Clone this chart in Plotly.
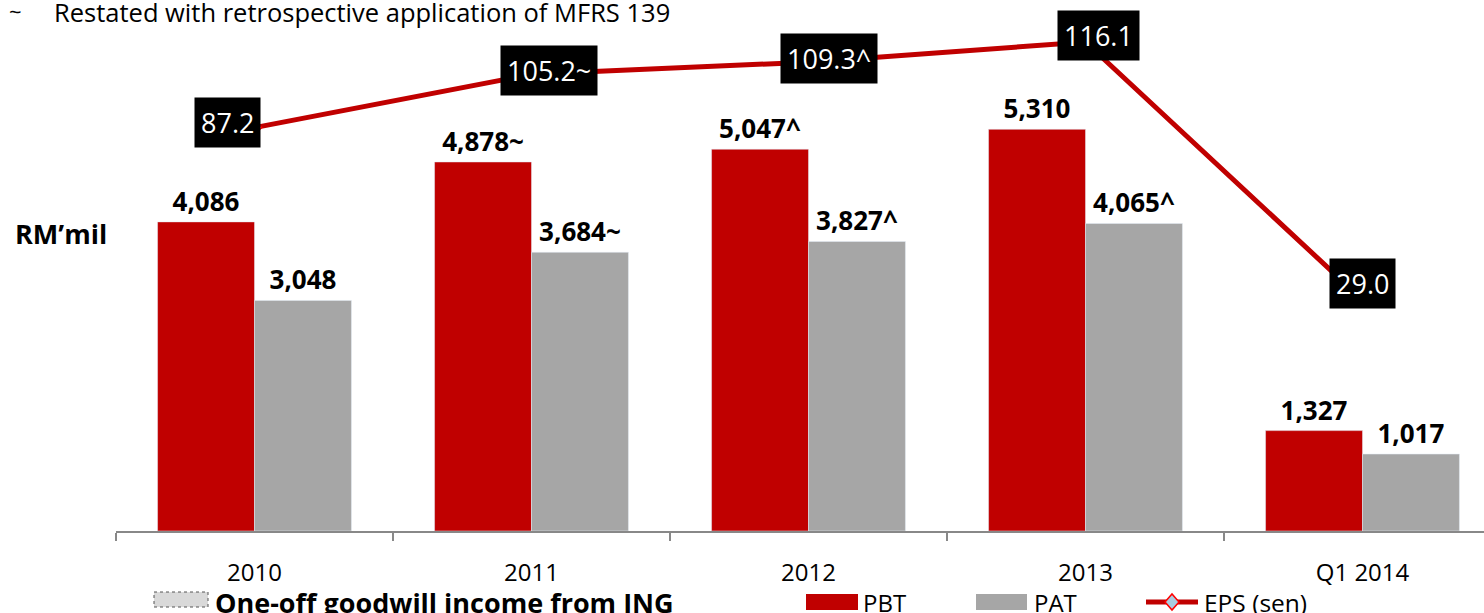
import plotly.graph_objects as go

# ---- data ----
categories = ["2010", "2011", "2012", "2013", "Q1 2014"]
pbt = [4086, 4878, 5047, 5310, 1327]
pbt_marks = ["", "~", "^", "", ""]
pat = [3048, 3684, 3827, 4065, 1017]
pat_marks = ["", "~", "^", "^", ""]
eps = [87.2, 105.2, 109.3, 116.1, 29.0]
eps_marks = ["", "~", "^", "", ""]

# label offsets (pixels) of the EPS boxes relative to their points
eps_xshift = [-27, 17, 20, 13, 0]
eps_yshift = [5, 4, 4, 7, 16]

W, H = 1484, 613
ML, MB = 116, 82
PW, PH = W - ML, H - MB

def px(x):
    return (x - ML) / PW

def py(y):
    return (PH - y) / PH

FONT = "Open Sans, Lato, sans-serif"
RED = "#C00000"
GREY = "#A6A6A6"

fig = go.Figure()
fig.add_trace(go.Bar(
    x=categories, y=pbt, name="PBT", marker_color=RED,
    text=[f"<b>{v:,}{m}</b>" for v, m in zip(pbt, pbt_marks)],
    textposition="outside", textfont=dict(family=FONT, size=26, color="black"),
    cliponaxis=False,
))
fig.add_trace(go.Bar(
    x=categories, y=pat, name="PAT", marker_color=GREY,
    text=[f"<b>{v:,}{m}</b>" for v, m in zip(pat, pat_marks)],
    textposition="outside", textfont=dict(family=FONT, size=26, color="black"),
    cliponaxis=False,
))
fig.add_trace(go.Scatter(
    x=categories, y=eps, name="EPS (sen)", yaxis="y2", mode="lines+markers",
    line=dict(color=RED, width=5),
    marker=dict(symbol="diamond", size=11, color="#A9CCE0", line=dict(color="#FF0000", width=1.5)),
    cliponaxis=False,
))

annotations = []
for i, (v, m, xs, ys) in enumerate(zip(eps, eps_marks, eps_xshift, eps_yshift)):
    annotations.append(dict(
        x=i, y=v, xref="x", yref="y2", text=f"{v:.1f}{m}", showarrow=False,
        xshift=xs, yshift=ys, bgcolor="black", borderpad=6,
        font=dict(family=FONT, size=27, color="white"),
    ))

# footnote
annotations.append(dict(x=px(7), y=py(11), xref="paper", yref="paper", text="~",
                        showarrow=False, xanchor="left", yanchor="middle",
                        font=dict(family=FONT, size=22, color="black")))
annotations.append(dict(x=px(52), y=py(12), xref="paper", yref="paper",
                        text="Restated with retrospective application of MFRS 139",
                        showarrow=False, xanchor="left", yanchor="middle",
                        font=dict(family=FONT, size=25.5, color="black")))
# unit label
annotations.append(dict(x=px(61), y=py(233), xref="paper", yref="paper", text="<b>RM’mil</b>",
                        showarrow=False, xanchor="center", yanchor="middle",
                        font=dict(family=FONT, size=27, color="black")))

# legend (manual)
shapes = []
shapes.append(dict(type="rect", xref="paper", yref="paper", x0=px(154), x1=px(208), y0=py(592), y1=py(607),
                   fillcolor="#D9D9D9", line=dict(color="#555555", width=1, dash="dot")))
annotations.append(dict(x=px(213), y=py(602), xref="paper", yref="paper",
                        text="<b>One-off goodwill income from ING</b>", showarrow=False,
                        xanchor="left", yanchor="middle", font=dict(family=FONT, size=27, color="black")))
shapes.append(dict(type="rect", xref="paper", yref="paper", x0=px(806), x1=px(858), y0=py(594), y1=py(610),
                   fillcolor=RED, line=dict(width=0)))
annotations.append(dict(x=px(861), y=py(602), xref="paper", yref="paper", text="PBT", showarrow=False,
                        xanchor="left", yanchor="middle", font=dict(family=FONT, size=24, color="black")))
shapes.append(dict(type="rect", xref="paper", yref="paper", x0=px(976), x1=px(1027), y0=py(594), y1=py(610),
                   fillcolor=GREY, line=dict(width=0)))
annotations.append(dict(x=px(1032), y=py(602), xref="paper", yref="paper", text="PAT", showarrow=False,
                        xanchor="left", yanchor="middle", font=dict(family=FONT, size=24, color="black")))
shapes.append(dict(type="line", xref="paper", yref="paper", x0=px(1146), x1=px(1198), y0=py(602), y1=py(602),
                   line=dict(color=RED, width=5)))
shapes.append(dict(type="path", xref="paper", yref="paper",
                   path=f"M {px(1165)},{py(602)} L {px(1172)},{py(594)} L {px(1179)},{py(602)} L {px(1172)},{py(610)} Z",
                   fillcolor="#A9CCE0", line=dict(color="#FF0000", width=1.5)))
annotations.append(dict(x=px(1202), y=py(602), xref="paper", yref="paper", text="EPS (sen)", showarrow=False,
                        xanchor="left", yanchor="middle", font=dict(family=FONT, size=24.5, color="black")))

fig.update_layout(
    width=W, height=H,
    margin=dict(l=ML, r=0, t=0, b=MB, pad=0),
    paper_bgcolor="white", plot_bgcolor="white",
    barmode="group", bargap=0.3, bargroupgap=0,
    showlegend=False,
    annotations=annotations, shapes=shapes,
    xaxis=dict(type="category", range=[-0.5, -0.5 + PW / 277.0], tickson="boundaries",
               ticks="outside", ticklen=8, tickcolor="#888888", tickwidth=1.5,
               showline=True, linecolor="#888888", linewidth=1.5,
               showgrid=False, zeroline=False, ticklabelstandoff=19,
               tickfont=dict(family=FONT, size=24, color="black")),
    yaxis=dict(range=[0, PH / 0.07565], visible=False, showgrid=False, zeroline=False),
    yaxis2=dict(range=[-(PH - 385.7) / 2.96, 385.7 / 2.96], overlaying="y", visible=False,
                showgrid=False, zeroline=False),
)

fig.write_html("out.html", config={"displayModeBar": False},
               post_script="document.body.style.margin='0';document.body.style.overflow='hidden';")
